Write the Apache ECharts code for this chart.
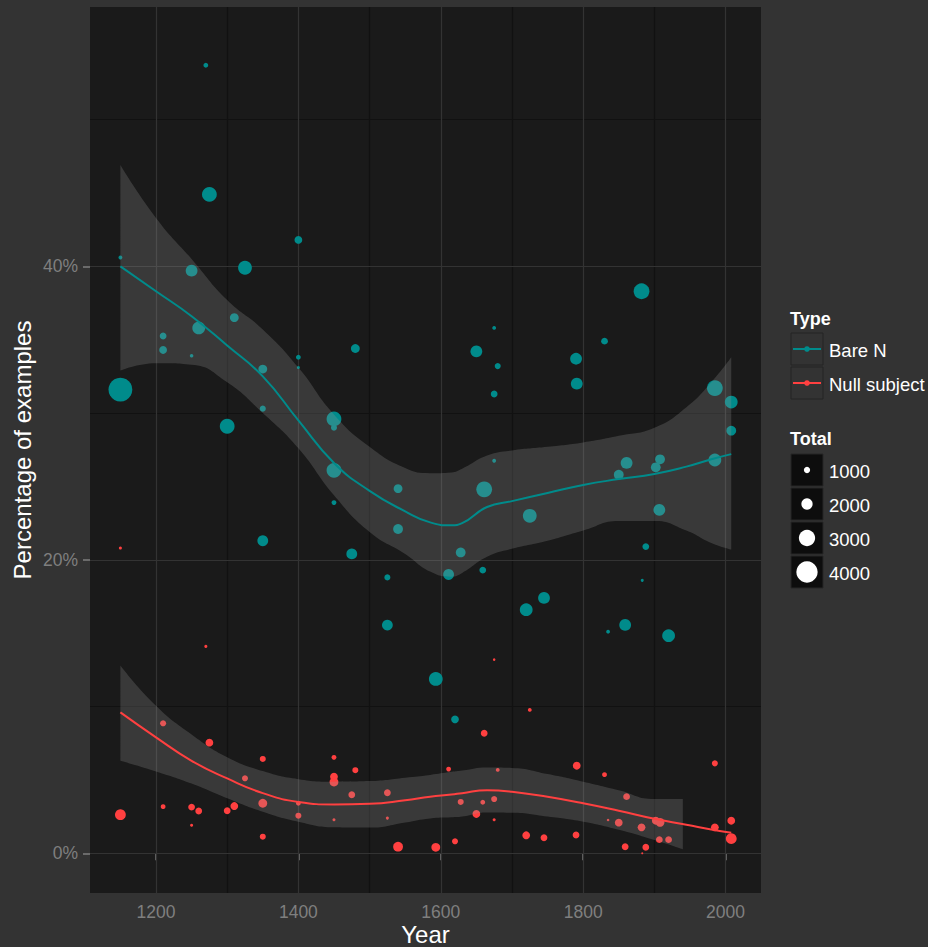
<!DOCTYPE html>
<html>
<head>
<meta charset="utf-8">
<script src="https://cdn.jsdelivr.net/npm/echarts@6/dist/echarts.min.js"></script>
<style>
  html, body { margin: 0; padding: 0; background: #333333; }
  #chart { width: 928px; height: 947px; }
</style>
</head>
<body>
<div id="chart"></div>
<script>
// ---- data -------------------------------------------------------------
const typeNames = ['Bare N', 'Null subject'];

// [year, percentage, total]
const bareN = [
  [1270, 53.7, 700], [1275, 44.9, 2700], [1400, 41.8, 1300], [1150, 40.6, 500],
  [1250, 39.7, 2100], [1325, 39.9, 2500], [1210, 35.25, 1100], [1210, 34.3, 1300],
  [1260, 35.8, 2300], [1310, 36.5, 1500], [1250, 33.9, 450], [1400, 33.8, 700],
  [1400, 33.1, 350], [1480, 34.4, 1500], [1150, 31.6, 4500], [1350, 33.0, 1500],
  [1350, 30.3, 950], [1300, 29.1, 2700], [1450, 29.6, 2700], [1450, 29.0, 950],
  [1450, 26.1, 2700], [1450, 23.9, 700], [1540, 24.85, 1500], [1540, 22.1, 1700],
  [1350, 21.3, 1900], [1475, 20.4, 1900], [1525, 18.8, 950], [1882, 38.3, 2900],
  [1675, 35.8, 500], [1650, 34.2, 2100], [1680, 33.2, 950], [1675, 31.3, 1100],
  [1830, 34.9, 1100], [1790, 33.7, 2100], [1791, 32.0, 2100], [1985, 31.7, 2900],
  [2008, 30.75, 2300], [2008, 28.8, 1700], [1675, 26.75, 500], [1661, 24.8, 2900],
  [1725, 23.0, 2500], [1628, 20.5, 1700], [1611, 19.0, 1900], [1659, 19.3, 1100],
  [1861, 26.6, 2100], [1908, 26.85, 1700], [1902, 26.3, 1700], [1850, 25.8, 1700],
  [1985, 26.8, 2300], [1907, 23.4, 2100], [1888, 20.9, 1100], [1883, 18.6, 350],
  [1745, 17.4, 2100], [1525, 15.55, 1900], [1720, 16.6, 2300], [1835, 15.1, 500],
  [1859, 15.56, 2100], [1920, 14.83, 2300], [1593, 11.88, 2500], [1620, 9.13, 1300]
];

const nullSubject = [
  [1150, 20.8, 350], [1270, 14.1, 350], [1210, 8.86, 950], [1275, 7.54, 1300],
  [1350, 6.43, 950], [1325, 5.11, 950], [1450, 6.54, 700], [1450, 5.22, 1300],
  [1450, 4.86, 1500], [1480, 5.66, 950], [1525, 4.13, 1100], [1475, 3.99, 1100],
  [1350, 3.41, 1500], [1400, 3.41, 700], [1400, 2.56, 950], [1450, 2.29, 350],
  [1525, 2.4, 350], [1150, 2.63, 1900], [1210, 3.18, 700], [1250, 3.15, 1100],
  [1260, 2.88, 1100], [1300, 2.9, 1100], [1310, 3.22, 1300], [1250, 1.91, 350],
  [1350, 1.13, 950], [1540, 0.45, 1700], [1675, 13.2, 250], [1725, 9.77, 500],
  [1661, 8.18, 1100], [1791, 5.97, 1300], [1830, 5.36, 700], [1985, 6.13, 950],
  [1611, 5.74, 700], [1680, 5.68, 500], [1628, 3.5, 950], [1659, 3.48, 700],
  [1675, 3.7, 950], [1650, 2.68, 1300], [1675, 2.29, 350], [1861, 3.86, 1100],
  [1835, 2.27, 250], [1850, 2.09, 1300], [1882, 1.77, 1300], [1902, 2.22, 1300],
  [1908, 2.11, 1500], [1907, 0.93, 1100], [1920, 0.93, 1100], [1985, 1.77, 1300],
  [2008, 2.22, 1300], [2008, 1.0, 1900], [1593, 0.41, 1500], [1620, 0.82, 950],
  [1720, 1.23, 1300], [1745, 1.06, 1100], [1790, 1.25, 1100], [1859, 0.45, 1100],
  [1888, 0.41, 1100], [1883, 0.0, 150]
];

// loess fits and their confidence bands
const fitYears = [1150, 1200, 1250, 1300, 1350, 1400, 1450, 1500, 1550, 1585, 1615,
                  1630, 1665, 1700, 1750, 1800, 1850, 1900, 1945, 1980, 2008];
const bareFit   = [40.0, 38.3, 36.6, 34.6, 32.5, 29.5, 26.6, 24.7, 23.3, 22.55, 22.35,
                   22.5, 23.6, 24.0, 24.55, 25.1, 25.5, 25.85, 26.35, 26.85, 27.2];
const bareUpper = [46.9, 43.3, 40.5, 37.7, 35.7, 33.1, 29.9, 27.7, 26.25, 25.9, 25.95,
                   26.2, 27.1, 27.45, 27.7, 28.0, 28.45, 29.0, 30.4, 32.1, 33.8];
const bareLower = [32.9, 33.4, 33.3, 32.1, 30.0, 27.6, 24.4, 21.9, 20.4, 19.2, 18.85,
                   19.1, 20.2, 20.75, 21.3, 22.0, 22.65, 22.65, 22.0, 21.15, 20.7];
const nullFit   = [9.6, 7.9, 6.3, 5.1, 4.1, 3.5, 3.33, 3.37, 3.62, 3.86, 4.0,
                   4.1, 4.3, 4.2, 3.85, 3.41, 2.9, 2.35, 1.95, 1.62, 1.4];

const nullBandYears = [1150, 1200, 1250, 1300, 1350, 1400, 1450, 1500, 1550, 1585,
                       1615, 1630, 1665, 1700, 1750, 1800, 1850, 1900, 1940];
const nullUpper = [12.8, 10.05, 8.1, 6.55, 5.6, 5.05, 4.88, 4.92, 5.15, 5.34,
                   5.55, 5.64, 5.85, 5.82, 5.4, 4.88, 4.3, 3.7, 3.7];
const nullLower = [6.3, 5.58, 4.75, 3.75, 2.83, 2.15, 1.77, 1.75, 2.1, 2.38,
                   2.45, 2.5, 2.78, 2.76, 2.5, 2.15, 1.6, 0.9, 0.27];

const totalBreaks = [1000, 2000, 3000, 4000];
const xMajor = [1200, 1400, 1600, 1800, 2000];
const xMinor = [1300, 1500, 1700, 1900];
const yMajor = [0, 20, 40];
const yMinor = [10, 30, 50];

// ---- styling ------------------------------------------------------------
const FONT = "'Liberation Sans', Arial, Helvetica, sans-serif";
const colors = ['#008B8B', '#FF4040'];
const bandFill = 'rgba(153,153,153,0.25)';
const SMOOTH = 0.5;

// point diameter (px) for a given total
function dotSize(total) { return 1.3 + total * 0.005; }

// Band = invisible lower line + stacked (upper - lower) area.
// Rows are [value, year] with y encoded first so the stack runs on y.
function bandSeries(key, years, lower, upper) {
  return [
    {
      type: 'line', stack: key, silent: true, z: 3, symbol: 'none', smooth: SMOOTH,
      encode: { x: 1, y: 0 },
      data: years.map((y, i) => [lower[i], y]),
      lineStyle: { width: 0, opacity: 0 }
    },
    {
      type: 'line', stack: key, silent: true, z: 3, symbol: 'none', smooth: SMOOTH,
      encode: { x: 1, y: 0 },
      data: years.map((y, i) => [upper[i] - lower[i], y]),
      lineStyle: { width: 0, opacity: 0 },
      areaStyle: { color: bandFill, opacity: 1 }
    }
  ];
}

function fitSeries(name, years, values, color) {
  return {
    type: 'line', name: name, silent: true, z: 4, symbol: 'none', smooth: SMOOTH,
    data: years.map((y, i) => [y, values[i]]),
    lineStyle: { color: color, width: 2 }
  };
}

function pointSeries(name, rows, color) {
  return {
    type: 'scatter', name: name, z: 2, silent: true,
    data: rows.map(r => [r[0], r[1], r[2]]),
    symbolSize: v => dotSize(v[2]),
    itemStyle: { color: color, opacity: 1 }
  };
}

const gridLines = [].concat(
  xMinor.map(v => ({ xAxis: v, lineStyle: { color: '#111111', width: 1.2, type: 'solid' } })),
  yMinor.map(v => ({ yAxis: v, lineStyle: { color: '#111111', width: 1.2, type: 'solid' } })),
  xMajor.map(v => ({ xAxis: v, lineStyle: { color: '#333333', width: 1.2, type: 'solid' } })),
  yMajor.map(v => ({ yAxis: v, lineStyle: { color: '#333333', width: 1.2, type: 'solid' } }))
);

// ---- legend (drawn as graphic elements) -----------------------------------
const legendLeft = 791, keySize = 32, labelX = 829;
const legendItems = [];
legendItems.push({ type: 'text', x: 790, y: 319,
  style: { text: 'Type', fill: '#ffffff', fontSize: 18, fontWeight: 'bold', fontFamily: FONT, verticalAlign: 'middle' } });
typeNames.forEach((name, i) => {
  const top = 333 + i * 34;
  const cy = top + keySize / 2;
  legendItems.push({ type: 'rect', shape: { x: legendLeft, y: top, width: keySize, height: keySize },
    style: { fill: '#333333', stroke: '#242424', lineWidth: 1 } });
  legendItems.push({ type: 'line', shape: { x1: legendLeft + 2, y1: cy, x2: legendLeft + keySize - 2, y2: cy },
    style: { stroke: colors[i], lineWidth: 2 } });
  legendItems.push({ type: 'circle', shape: { cx: legendLeft + keySize / 2, cy: cy, r: 2.8 },
    style: { fill: colors[i] } });
  legendItems.push({ type: 'text', x: labelX, y: cy + 1,
    style: { text: name, fill: '#ffffff', fontSize: 18.5, fontFamily: FONT, verticalAlign: 'middle' } });
});
legendItems.push({ type: 'text', x: 790, y: 439,
  style: { text: 'Total', fill: '#ffffff', fontSize: 18, fontWeight: 'bold', fontFamily: FONT, verticalAlign: 'middle' } });
totalBreaks.forEach((t, i) => {
  const top = 454 + i * 34;
  const cy = top + keySize / 2;
  legendItems.push({ type: 'rect', shape: { x: legendLeft, y: top, width: keySize, height: keySize },
    style: { fill: '#0d0d0d', stroke: '#262626', lineWidth: 1 } });
  legendItems.push({ type: 'circle', shape: { cx: legendLeft + keySize / 2, cy: cy, r: dotSize(t) / 2 },
    style: { fill: '#ffffff' } });
  legendItems.push({ type: 'text', x: labelX, y: cy + 1,
    style: { text: String(t), fill: '#ffffff', fontSize: 18.5, fontFamily: FONT, verticalAlign: 'middle' } });
});

// ---- chart ---------------------------------------------------------------
const chart = echarts.init(document.getElementById('chart'), null, { renderer: 'svg' });
chart.setOption({
  backgroundColor: '#333333',
  animation: false,
  textStyle: { fontFamily: FONT },
  grid: { left: 90, top: 7, width: 671, height: 886, show: true, backgroundColor: '#1a1a1a',
          borderWidth: 0, containLabel: false, outerBoundsMode: 'none' },
  xAxis: {
    type: 'value', min: 1107.3, max: 2049.8,
    splitLine: { show: false }, axisLine: { show: false },
    axisTick: { show: true, customValues: xMajor, length: 7, lineStyle: { color: '#7f7f7f', width: 1.5 } },
    axisLabel: { customValues: xMajor, color: '#7f7f7f', fontSize: 17.5, lineHeight: 17, margin: 10,
                 fontFamily: FONT, formatter: v => String(v) },
    name: 'Year', nameLocation: 'middle', nameGap: 30, nameMoveOverlap: false,
    nameTextStyle: { color: '#ffffff', fontSize: 24, lineHeight: 23, fontFamily: FONT }
  },
  yAxis: {
    type: 'value', min: -2.705, max: 57.67,
    splitLine: { show: false }, axisLine: { show: false },
    axisTick: { show: true, customValues: yMajor, length: 7, lineStyle: { color: '#7f7f7f', width: 1.5 } },
    axisLabel: { customValues: yMajor, color: '#7f7f7f', fontSize: 17.5, margin: 12, fontFamily: FONT,
                 formatter: v => v + '%' },
    name: 'Percentage of examples', nameLocation: 'middle', nameGap: 56, nameMoveOverlap: false,
    nameTextStyle: { color: '#ffffff', fontSize: 24, fontFamily: FONT }
  },
  series: [].concat(
    [{
      type: 'line', data: [], silent: true, z: 1,
      markLine: { silent: true, symbol: 'none', z: 1, animation: false,
                  label: { show: false }, emphasis: { disabled: true }, data: gridLines }
    }],
    [pointSeries(typeNames[0], bareN, colors[0]), pointSeries(typeNames[1], nullSubject, colors[1])],
    bandSeries('bareBand', fitYears, bareLower, bareUpper),
    bandSeries('nullBand', nullBandYears, nullLower, nullUpper),
    [fitSeries(typeNames[0], fitYears, bareFit, colors[0]), fitSeries(typeNames[1], fitYears, nullFit, colors[1])]
  ),
  graphic: legendItems
});
</script>
</body>
</html>
